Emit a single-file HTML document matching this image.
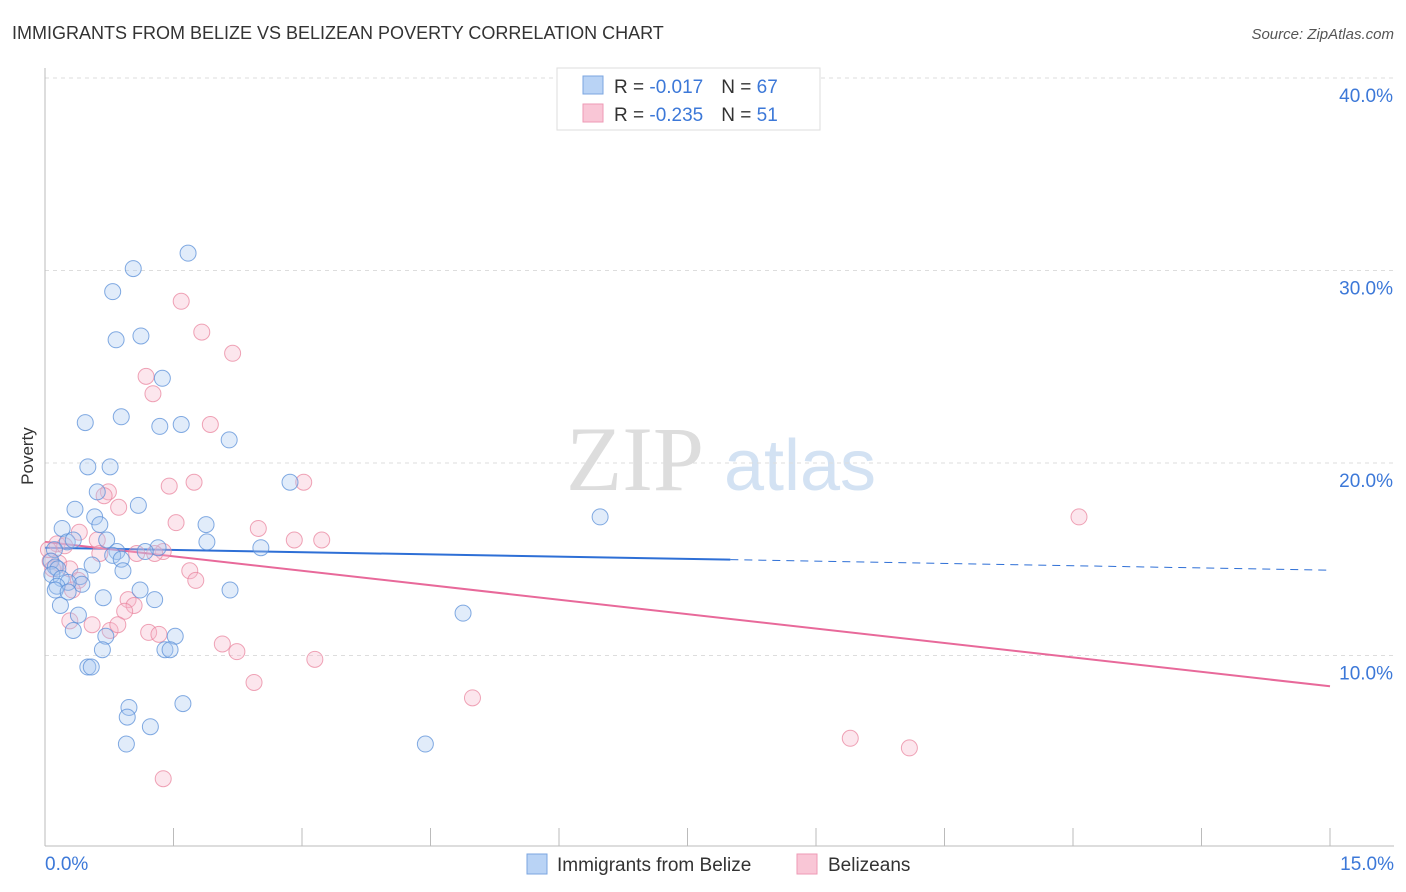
<!DOCTYPE html>
<html><head><meta charset="utf-8"><style>
body{margin:0;background:#fff;font-family:"Liberation Sans",sans-serif}
svg{display:block}
</style></head><body>
<svg id="c" width="1406" height="892">
<text x="12" y="39" font-size="18" fill="#333">IMMIGRANTS FROM BELIZE VS BELIZEAN POVERTY CORRELATION CHART</text>
<text x="1394" y="39" font-size="15" fill="#555" font-style="italic" text-anchor="end">Source: ZipAtlas.com</text>
<text x="33" y="456" font-size="17" fill="#333" transform="rotate(-90 33 456)" text-anchor="middle">Poverty</text>
<g><text x="635" y="490" font-size="92" fill="#ddd" font-family="Liberation Serif" text-anchor="middle">ZIP</text><text x="800" y="490" font-size="72" fill="#d3e2f3" text-anchor="middle">atlas</text></g>
<g id="grid"></g><g id="axes"></g><g id="trend"></g><g id="pts"></g>
<g>
<rect x="557" y="68" width="263" height="62" fill="#fff" stroke="#ddd"/>
<rect x="583" y="76" width="20" height="18" fill="#b9d3f5" stroke="#7ba6e0"/>
<rect x="583" y="104" width="20" height="18" fill="#f9c6d6" stroke="#ee9ab5"/>
<text x="614" y="93" font-size="19" fill="#333">R = <tspan fill="#3c78d8">-0.017</tspan><tspan dx="18">N = </tspan><tspan fill="#3c78d8">67</tspan></text>
<text x="614" y="121" font-size="19" fill="#333">R = <tspan fill="#3c78d8">-0.235</tspan><tspan dx="18">N = </tspan><tspan fill="#3c78d8"> 51</tspan></text>
</g>
<g>
<rect x="527" y="854" width="20" height="20" fill="#b9d3f5" stroke="#7ba6e0"/>
<text x="557" y="871" font-size="19" fill="#333">Immigrants from Belize</text>
<rect x="797" y="854" width="20" height="20" fill="#f9c6d6" stroke="#ee9ab5"/>
<text x="828" y="871" font-size="19" fill="#333">Belizeans</text>
</g>
</svg>
<script>
const yTicks=[10,20,30,40];
const xTickLabels=["0.0%","15.0%"];
const blueX=[1.67,1.03,0.79,1.12,0.83,1.37,0.89,0.47,1.34,1.59,2.15,0.5,0.76,2.86,0.61,1.09,0.35,0.58,0.64,1.88,0.2,1.89,2.52,0.26,0.72,0.33,1.32,0.84,0.79,1.17,0.89,0.91,0.55,0.11,0.07,0.12,0.15,0.08,0.19,0.41,0.43,0.27,0.14,0.12,1.11,0.27,0.68,2.16,1.28,0.18,0.39,0.33,0.71,1.52,1.4,1.46,0.67,0.5,0.54,0.98,0.96,1.23,1.61,0.95,6.48,4.88,4.44,1.75];
const blueY=[30.9,30.1,28.9,26.6,26.4,24.4,22.4,22.1,21.9,22.0,21.2,19.8,19.8,19.0,18.5,17.8,17.6,17.2,16.8,16.8,16.6,15.9,15.6,15.9,16.0,16.0,15.6,15.4,15.2,15.4,15.0,14.4,14.7,15.5,14.9,14.6,14.5,14.2,14.0,14.1,13.7,13.8,13.6,13.4,13.4,13.3,13.0,13.4,12.9,12.6,12.1,11.3,11.0,11.0,10.3,10.3,10.3,9.4,9.4,7.3,6.8,6.3,7.5,5.4,17.2,12.2,5.4];
const pinkX=[1.59,1.83,2.19,1.18,1.26,1.93,1.74,1.45,3.02,0.74,0.69,0.86,1.53,2.49,2.91,3.23,0.4,0.61,0.14,0.23,0.16,0.29,0.06,0.09,1.69,1.76,0.39,1.38,1.07,0.64,0.97,1.04,0.93,0.55,0.76,0.85,1.21,1.33,2.07,2.24,3.15,2.44,4.99,9.4,10.09,1.38,12.07,0.29,1.28,0.32,0.04];
const pinkY=[28.4,26.8,25.7,24.5,23.6,22.0,19.0,18.8,19.0,18.5,18.3,17.7,16.9,16.6,16.0,16.0,16.4,16.0,15.8,15.7,14.8,14.5,14.9,14.5,14.4,13.9,13.9,15.4,15.3,15.3,12.9,12.6,12.3,11.6,11.3,11.6,11.2,11.1,10.6,10.2,9.8,8.6,7.8,5.7,5.2,3.6,17.2,11.8,15.3,13.4,15.5];
const NS="http://www.w3.org/2000/svg";
const X0=45,X1=1330,Y0=848,PY=19.25;
function sx(v){return X0+(v/15)*(X1-X0);}
function sy(v){return Y0-v*PY;}
function mk(tag,at,parent){const e=document.createElementNS(NS,tag);for(const k in at)e.setAttribute(k,at[k]);document.getElementById(parent).appendChild(e);return e;}
yTicks.forEach(t=>{
 const l=mk("line",{x1:45,x2:1394,y1:sy(t),y2:sy(t),stroke:"#ddd","stroke-dasharray":"4,4"},"grid");
 
 
 const tx=mk("text",{x:1393,y:sy(t)+24,"font-size":19,fill:"#3c78d8","text-anchor":"end"},"grid");
 tx.textContent=t.toFixed(1)+"%";
 
 
});
const ax=mk("line",{x1:45,x2:45,y1:68,y2:846,stroke:"#bbb"},"axes");


const axx=mk("line",{x1:45,x2:1394,y1:846,y2:846,stroke:"#bbb"},"axes");


for(let i=0;i<=10;i++){const v=i*1.5;const t=mk("line",{x1:sx(v),x2:sx(v),y1:828,y2:846,stroke:"#bbb"},"axes");
 
 }
[[0,"start",45],[15,"end",1394]].forEach((a,i)=>{const t=mk("text",{x:a[2],y:870,"font-size":19,fill:"#3c78d8","text-anchor":a[1]},"axes");t.textContent=xTickLabels[i];
 
 });
function draw(xs,ys,fill,stroke,name){xs.forEach((x,i)=>{if(ys[i]===undefined)return;const c=mk("circle",{cx:sx(x),cy:sy(ys[i]),r:8,fill:fill,"fill-opacity":0.35,stroke:stroke,"stroke-opacity":0.75,"stroke-width":1},"pts");
 
 });}
draw(pinkX,pinkY,"#f7b6cb","#e9859f","belizeans-point");
draw(blueX,blueY,"#a9c8f0","#5a8fd8","belize-immigrants-point");
let l1=mk("line",{x1:sx(0),y1:sy(15.6),x2:sx(8),y2:sy(14.98),stroke:"#2e6fd6","stroke-width":2},"trend");


let l2=mk("line",{x1:sx(8),y1:sy(14.98),x2:sx(15),y2:sy(14.43),stroke:"#2e6fd6","stroke-width":1,"stroke-dasharray":"8,6"},"trend");


let l3=mk("line",{x1:sx(0),y1:sy(15.9),x2:sx(15),y2:sy(8.4),stroke:"#e8699a","stroke-width":2},"trend");


</script>
</body></html>
